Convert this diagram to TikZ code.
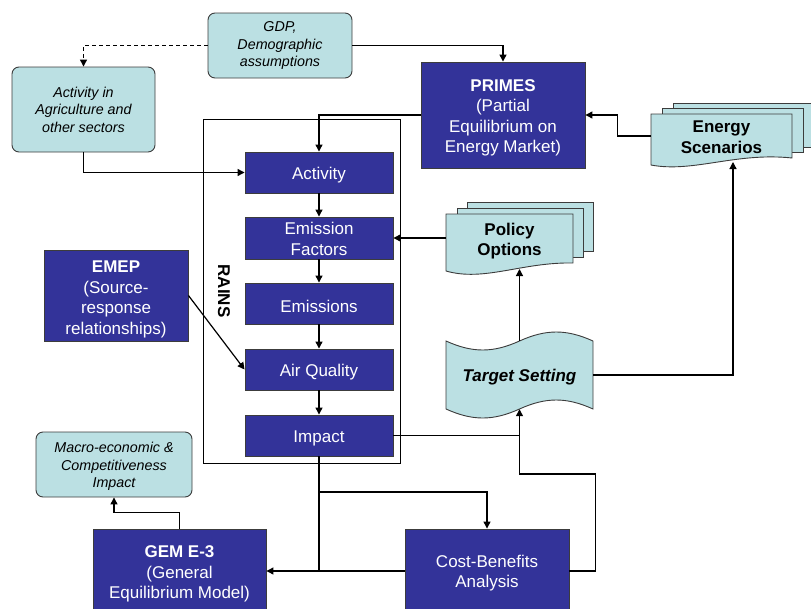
\documentclass[tikz,border=0pt]{standalone}
\usepackage{fontspec}
\setmainfont{Liberation Sans}
\usetikzlibrary{arrows.meta}
\definecolor{navy}{HTML}{333399}
\definecolor{pale}{HTML}{BBE0E3}
\definecolor{edge}{HTML}{3C3C3C}
% invisible strut that lowers the first line of a text block
\newcommand\lift[1]{\rule{0pt}{#1}}
\begin{document}
\begin{tikzpicture}[x=1pt,y=-1pt,
  model/.style={draw=edge,line width=0.9pt,fill=navy,text=white,align=center,
    font=\fontsize{17}{20.5}\selectfont,inner sep=0pt,
    execute at begin node={\rule{0pt}{17.5pt}}},
  input/.style={draw=edge,line width=0.9pt,fill=pale,rounded corners=7pt,align=center,
    font=\fontsize{14.3}{17.5}\selectfont\itshape,inner sep=0pt},
  doc/.style={draw=edge,line width=0.9pt,fill=pale},
  doctext/.style={align=center,inner sep=0pt,font=\fontsize{17}{20.5}\selectfont\bfseries},
  flow/.style={line width=1.2pt,-{Triangle[length=7pt,width=7pt]}},
  link/.style={line width=1.2pt}]
\useasboundingbox (0,0) rectangle (811,608);

% RAINS frame and its label
\draw[line width=0.8pt] (203.5,119) rectangle (400,463);
\node[rotate=-90,font=\fontsize{17}{20}\selectfont\bfseries,inner sep=0pt] (rainslabel) at (224,291) {RAINS};

% external inputs
\node[input,minimum width=144pt,minimum height=65pt] (gdp) at (280,45.5) {GDP,\\Demographic\\assumptions};
\node[input,minimum width=143pt,minimum height=85pt] (agri) at (83.5,109.5) {Activity in\\Agriculture and\\other sectors};
\node[input,minimum width=156pt,minimum height=65pt] (macro) at (114,464.5) {\lift{14pt}Macro-economic \&\\Competitiveness\\Impact};

% models
\node[model,minimum width=164pt,minimum height=106pt] (primes) at (503,115) {\lift{18pt}\textbf{PRIMES}\\(Partial\\Equilibrium on\\Energy Market)};
\node[model,minimum width=144pt,minimum height=91pt] (emep) at (116,295.5) {\lift{19.5pt}\textbf{EMEP}\\(Source-\\response\\relationships)};
\node[model,minimum width=173pt,minimum height=84pt] (gem) at (179.5,571) {\lift{18pt}\textbf{GEM E-3}\\(General\\Equilibrium Model)};
\node[model,minimum width=164pt,minimum height=84pt] (cba) at (487,571) {\lift{16.5pt}Cost-Benefits\\Analysis};

% RAINS chain
\node[model,minimum width=148pt,minimum height=41pt] (activity) at (319,172.5) {Activity};
\node[model,minimum width=148pt,minimum height=42pt] (emf) at (319,238) {\lift{14.5pt}Emission\\Factors};
\node[model,minimum width=148pt,minimum height=41pt] (emis) at (319,303.5) {Emissions};
\node[model,minimum width=148pt,minimum height=41pt] (airq) at (319,369.5) {Air Quality};
\node[model,minimum width=148pt,minimum height=41pt] (impact) at (319,435.5) {Impact};

% energy scenarios (stack of documents)
\draw[doc] (673,103) rectangle (816,147);
\draw[doc] (662,108) rectangle (803,152);
\draw[doc] (651,114) -- (792,114) -- (792,158) .. controls (736,152) and (693,173) .. (651,165) -- cycle;
\node[doctext,minimum width=141pt,minimum height=44pt] (escen) at (721.5,136) {\lift{14pt}Energy\\Scenarios};
\coordinate (escbot) at (733,162);

% policy options (stack of documents)
\draw[doc] (467,202) rectangle (593,251);
\draw[doc] (457,208) rectangle (583,257);
\draw[doc] (446,214) -- (573,214) -- (573,263) .. controls (522,262) and (484,282) .. (446,271) -- cycle;
\node[doctext,minimum width=127pt,minimum height=50pt] (policy) at (509.5,240) {\lift{15pt}Policy\\Options};
\coordinate (polbot) at (519.5,269);

% target setting (punched tape)
\draw[doc] (446,341) .. controls (472.5,353) and (493,353) .. (519.5,341)
  .. controls (546,329) and (566.5,329) .. (593,341) -- (593,409)
  .. controls (566.5,397) and (546,397) .. (519.5,409)
  .. controls (493,421) and (472.5,421) .. (446,409) -- cycle;
\node[doctext,font=\fontsize{17}{20.5}\selectfont\bfseries\itshape,
  minimum width=147pt,minimum height=68pt] (target) at (519.5,375) {\lift{17.5pt}Target Setting};

% connectors
\draw[flow,dash pattern=on 4pt off 3pt] (gdp.west) -| (agri.north);
\draw[flow] (gdp.east) -| (primes.north);
\draw[flow] (primes.west) -| (activity.north);
\draw[flow] (agri.south) |- (activity.west);
\draw[flow] (activity.south) -- (emf.north);
\draw[flow] (emf.south) -- (emis.north);
\draw[flow] (emis.south) -- (airq.north);
\draw[flow] (airq.south) -- (impact.north);
\draw[flow] (emep.east) -- (airq.west);
\draw[flow] (escen.west) -- ++(-33,0) |- (primes.east);
\draw[flow] (policy.west |- emf.east) -- (emf.east);
\draw[flow] (target.north) -- (polbot);
\draw[flow] (target.east) -| (escbot);
\draw[link] (impact.east) -- (impact.east -| target.south);
\coordinate (cbj) at (519.5,474);
\draw[flow] (cba.east) -- ++(26,0) |- (cbj) -- (target.south);
\coordinate (split) at (319,492);
\draw[link] (impact.south) -- (split);
\draw[flow] (split) -| (cba.north);
\draw[flow] (split) |- (gem.east);
\draw[link] (cba.west) -- (cba.west -| split);
\draw[flow] (gem.north) -- ++(0,-16) -| (macro.south);
\end{tikzpicture}
\end{document}
